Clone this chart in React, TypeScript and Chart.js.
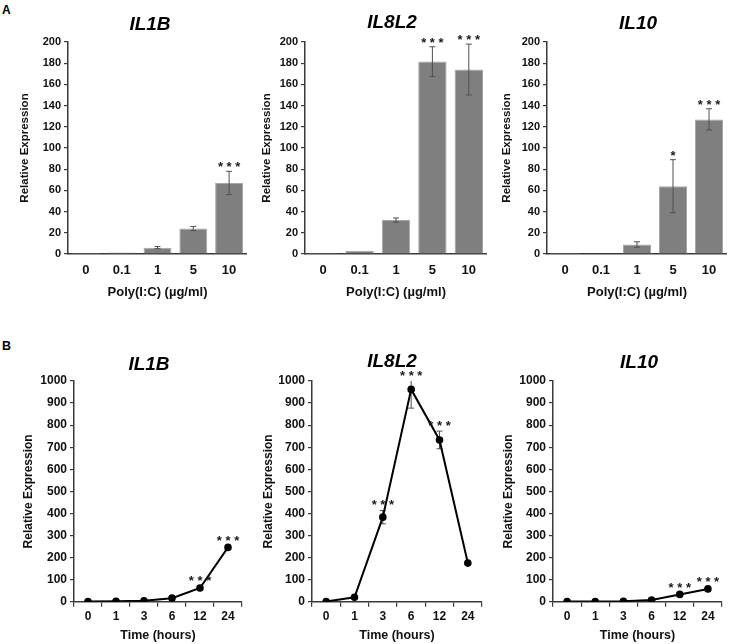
import React, { useEffect, useRef } from "react";
import { Chart, registerables } from "chart.js";

Chart.register(...registerables);
Chart.defaults.font.family = "'Liberation Sans', Arial, sans-serif";

// ---------- data ----------
const doseLabels = ["0", "0.1", "1", "5", "10"];
const timeLabels = ["0", "1", "3", "6", "12", "24"];

const il1bDose = [1, 1.5, 6, 24, 67];
const il1bDoseErr = [0.4, 0.4, 1, 2, 11];
const il1bDoseSig = ["", "", "", "", "***"];

const il8l2Dose = [1, 3, 32, 181.5, 174];
const il8l2DoseErr = [0.3, 0.6, 2, 14, 24];
const il8l2DoseSig = ["", "", "", "***", "***"];

const il10Dose = [1, 0.5, 9, 64, 127];
const il10DoseErr = [0.4, 0.3, 2.5, 25, 10];
const il10DoseSig = ["", "", "", "*", "***"];

const il1bTime = [1, 2, 4, 16, 62, 246];
const il1bTimeErr = [0, 0, 1, 3, 5, 6];
const il1bTimeSig = ["", "", "", "", "***", "***"];

const il8l2Time = [1, 20, 383, 962, 733, 175];
const il8l2TimeErr = [0, 3, 30, 85, 40, 6];
const il8l2TimeSig = ["", "", "***", "***", "***", ""];

const il10Time = [1, 1, 2, 8, 33, 58];
const il10TimeErr = [0, 0, 0.5, 1, 4, 5];
const il10TimeSig = ["", "", "", "", "***", "***"];

const doseAxisTitle = "Poly(I:C) (µg/ml)";
const timeAxisTitle = "Time (hours)";
const yAxisTitle = "Relative Expression";

// ---------- plugin: error bars, significance stars, panel title ----------
const annotatePlugin = {
  id: "annotate",
  beforeDatasetsDraw(chart: any, _a: any, opts: any) {
    if (opts.errorsBehind) drawErrors(chart, opts);
  },
  afterDatasetsDraw(chart: any, _a: any, opts: any) {
    if (!opts.errorsBehind) drawErrors(chart, opts);
    const { ctx, chartArea } = chart;
    const y = chart.scales.y;
    const meta = chart.getDatasetMeta(0);
    const values = chart.data.datasets[0].data as number[];
    ctx.save();
    ctx.fillStyle = "#1a1a1a";
    ctx.font = "bold 13px 'Liberation Sans', Arial, sans-serif";
    ctx.textAlign = "center";
    ctx.textBaseline = "alphabetic";
    opts.sig.forEach((s: string, i: number) => {
      if (!s) return;
      const v = values[i];
      const e = opts.errors[i] || 0;
      let top = y.getPixelForValue(v + e);
      if (top < chartArea.top) top = chartArea.top;
      const px = meta.data[i].x;
      ctx.fillText(s.split("").join(" "), px, top - opts.starGap);
    });
    ctx.fillStyle = "#000";
    ctx.font = "italic bold 19px 'Liberation Sans', Arial, sans-serif";
    ctx.textBaseline = "middle";
    ctx.fillText(opts.title, opts.titleX, opts.titleY);
    ctx.restore();
  },
};

function drawErrors(chart: any, opts: any) {
  const { ctx, chartArea } = chart;
  const y = chart.scales.y;
  const meta = chart.getDatasetMeta(0);
  const values = chart.data.datasets[0].data as number[];
  ctx.save();
  ctx.strokeStyle = "#505050";
  ctx.lineWidth = 1;
  opts.errors.forEach((e: number, i: number) => {
    if (!e) return;
    const v = values[i];
    const px = meta.data[i].x;
    let top = y.getPixelForValue(v + e);
    const bot = y.getPixelForValue(Math.max(v - e, 0));
    const clipped = top < chartArea.top;
    if (clipped) top = chartArea.top;
    if (bot - top < 1.5) return;
    const cap = 3;
    ctx.beginPath();
    ctx.moveTo(px, top);
    ctx.lineTo(px, bot);
    if (!clipped) {
      ctx.moveTo(px - cap, top);
      ctx.lineTo(px + cap, top);
    }
    ctx.moveTo(px - cap, bot);
    ctx.lineTo(px + cap, bot);
    ctx.stroke();
  });
  ctx.restore();
}

// ---------- panel layout ----------
type PanelCfg = {
  kind: "bar" | "line";
  title: string;
  labels: string[];
  values: number[];
  errors: number[];
  sig: string[];
  left: number;
  top: number;
  width: number;
  height: number;
  yWidth: number;
  titleX: number;
  titleY: number;
};

const panels: PanelCfg[] = [
  { kind: "bar", title: "IL1B", labels: doseLabels, values: il1bDose, errors: il1bDoseErr, sig: il1bDoseSig,
    left: 18, top: 0, width: 229, height: 305, yWidth: 50, titleX: 132, titleY: 25 },
  { kind: "bar", title: "IL8L2", labels: doseLabels, values: il8l2Dose, errors: il8l2DoseErr, sig: il8l2DoseSig,
    left: 260, top: 0, width: 227, height: 305, yWidth: 45, titleX: 132, titleY: 23 },
  { kind: "bar", title: "IL10", labels: doseLabels, values: il10Dose, errors: il10DoseErr, sig: il10DoseSig,
    left: 500, top: 0, width: 227, height: 305, yWidth: 47, titleX: 138, titleY: 24 },
  { kind: "line", title: "IL1B", labels: timeLabels, values: il1bTime, errors: il1bTimeErr, sig: il1bTimeSig,
    left: 21, top: 330, width: 227, height: 314, yWidth: 53, titleX: 128, titleY: 35 },
  { kind: "line", title: "IL8L2", labels: timeLabels, values: il8l2Time, errors: il8l2TimeErr, sig: il8l2TimeSig,
    left: 261, top: 330, width: 227, height: 314, yWidth: 51, titleX: 131, titleY: 32 },
  { kind: "line", title: "IL10", labels: timeLabels, values: il10Time, errors: il10TimeErr, sig: il10TimeSig,
    left: 501, top: 330, width: 227, height: 314, yWidth: 52, titleX: 138, titleY: 33 },
];

function Panel({ cfg }: { cfg: PanelCfg }) {
  const ref = useRef<HTMLCanvasElement | null>(null);
  useEffect(() => {
    if (!ref.current) return;
    const isBar = cfg.kind === "bar";
    const axisColor = "#3a3a3a";
    const dataset: any = isBar
      ? {
          data: cfg.values,
          backgroundColor: "#7f7f7f",
          borderColor: "#a6a6a6",
          borderWidth: 1,
          barPercentage: 0.78,
          categoryPercentage: 1,
        }
      : {
          data: cfg.values,
          borderColor: "#000",
          borderWidth: 2,
          pointRadius: 2.8,
          pointBackgroundColor: "#000",
          pointBorderColor: "#000",
          tension: 0,
          fill: false,
        };
    const chart = new Chart(ref.current, {
      type: cfg.kind,
      data: { labels: cfg.labels, datasets: [dataset] },
      plugins: [annotatePlugin as any],
      options: {
        animation: false,
        responsive: false,
        maintainAspectRatio: false,
        layout: { padding: { top: isBar ? 42 : 51, left: 0, right: 0, bottom: 0 } },
        plugins: {
          legend: { display: false },
          tooltip: { enabled: false },
          title: { display: false },
          annotate: {
            errors: cfg.errors,
            sig: cfg.sig,
            title: cfg.title,
            titleX: cfg.titleX,
            titleY: cfg.titleY,
            starGap: isBar ? 0 : 1.5,
            errorsBehind: !isBar,
          },
        } as any,
        scales: {
          x: {
            offset: true,
            ticks: {
              font: { size: isBar ? 13 : 12, weight: "bold" },
              color: "#111",
              padding: isBar ? 8.2 : 3.1,
              autoSkip: false,
              maxRotation: 0,
            },
            grid: isBar
              ? { drawOnChartArea: false, drawTicks: false, color: axisColor }
              : { offset: true, drawOnChartArea: false, drawTicks: true, tickLength: 5, color: axisColor, lineWidth: 1.2 },
            border: { display: true, color: axisColor, width: 1.5 },
            title: {
              display: true,
              text: isBar ? doseAxisTitle : timeAxisTitle,
              font: { size: isBar ? 13 : 12.5, weight: "bold" },
              color: "#111",
              padding: { top: 0, bottom: isBar ? 4.4 : 1.2 },
            },
            afterFit: (s: any) => {
              s.height = isBar ? 51 : 42.3;
            },
          } as any,
          y: {
            min: 0,
            max: isBar ? 200 : 1000,
            ticks: {
              stepSize: isBar ? 20 : 100,
              font: { size: isBar ? 11 : 12, weight: "bold" },
              color: "#111",
              padding: 3,
              callback: (v: any) => String(v),
            },
            grid: { drawOnChartArea: false, drawTicks: true, tickLength: 4, color: axisColor, lineWidth: 1.2 },
            border: { display: true, color: axisColor, width: 1.5 },
            title: {
              display: true,
              text: yAxisTitle,
              font: { size: isBar ? 11.5 : 12, weight: "bold" },
              color: "#111",
              padding: { top: 0, bottom: 0 },
            },
            afterFit: (s: any) => {
              s.width = cfg.yWidth;
            },
          } as any,
        },
      },
    });
    return () => chart.destroy();
  }, [cfg]);
  return (
    <div style={{ position: "absolute", left: cfg.left, top: cfg.top, width: cfg.width, height: cfg.height }}>
      <canvas ref={ref} width={cfg.width} height={cfg.height} style={{ width: cfg.width, height: cfg.height, display: "block" }} />
    </div>
  );
}

export default function App() {
  const labelStyle: React.CSSProperties = {
    position: "absolute",
    fontFamily: "'Liberation Sans', Arial, sans-serif",
    fontWeight: "bold",
    fontSize: 12,
    lineHeight: "12px",
    color: "#000",
  };
  return (
    <div style={{ position: "absolute", left: 0, top: 0, width: 729, height: 644, background: "#fff", overflow: "hidden" }}>
      <div style={{ ...labelStyle, left: 2, top: 4 }}>A</div>
      <div style={{ ...labelStyle, left: 2, top: 340, fontSize: 12.5 }}>B</div>
      {panels.map((p, i) => (
        <Panel key={i} cfg={p} />
      ))}
    </div>
  );
}
